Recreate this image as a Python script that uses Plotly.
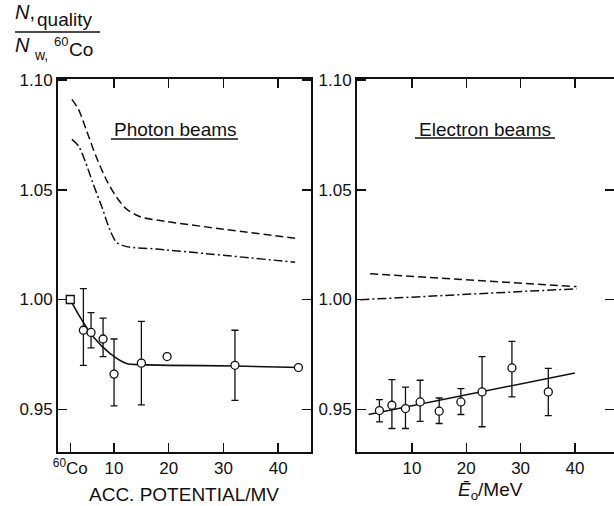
import plotly.graph_objects as go

# ---------------- data ----------------
# Photon beams (left panel)
co_x = [2.0]
co_y = [1.000]
photon_x = [4.4, 5.8, 8.0, 10.0, 15.0, 19.7, 32.1, 43.7]
photon_y = [0.986, 0.985, 0.982, 0.966, 0.971, 0.974, 0.970, 0.969]
photon_hi = [1.005, 0.994, 0.9915, 0.982, 0.990, 0.974, 0.986, 0.969]
photon_lo = [0.970, 0.978, 0.974, 0.9515, 0.952, 0.974, 0.954, 0.969]
photon_fit_x = [2.0, 3.8, 6.2, 9.3, 12.3, 15.0, 20.0, 32.0, 44.0]
photon_fit_y = [1.000, 0.992, 0.983, 0.9753, 0.9708, 0.9703, 0.9700, 0.9697, 0.9690]
photon_dash_x = [2.3, 3.5, 5.0, 6.8, 8.7, 10.5, 12.3, 14.8, 17.8, 43.1]
photon_dash_y = [1.0912, 1.0867, 1.0768, 1.0647, 1.0541, 1.0465, 1.0412, 1.0377, 1.0362, 1.0279]
photon_dd_x = [2.3, 3.5, 4.7, 6.2, 7.8, 9.3, 10.5, 12.3, 17.8, 43.1]
photon_dd_y = [1.0730, 1.0700, 1.0632, 1.0526, 1.0420, 1.0314, 1.0260, 1.0241, 1.0230, 1.0170]

# Electron beams (right panel)
elec_x = [4.0, 6.3, 8.8, 11.5, 15.0, 19.0, 22.9, 28.4, 35.1]
elec_y = [0.9494, 0.9518, 0.9503, 0.9533, 0.9491, 0.9533, 0.9579, 0.9688, 0.9579]
elec_hi = [0.9544, 0.9635, 0.9601, 0.9632, 0.9551, 0.9594, 0.9740, 0.9809, 0.9686]
elec_lo = [0.9442, 0.9412, 0.9412, 0.9445, 0.9435, 0.9476, 0.9420, 0.9556, 0.9471]
elec_fit_x = [2.0, 40.0]
elec_fit_y = [0.9476, 0.9665]
elec_dash_x = [2.3, 40.3]
elec_dash_y = [1.0117, 1.0059]
elec_dd_x = [0.5, 40.3]
elec_dd_y = [0.9999, 1.0049]

y_ticks = [0.95, 1.00, 1.05, 1.10]
y_ticktext = ["0.95", "1.00", "1.05", "1.10"]
left_xticks = [2, 10, 20, 30, 40]
left_xticktext = ["<sup>60</sup>Co", "10", "20", "30", "40"]
right_xticks = [10, 20, 30, 40]
right_xticktext = ["10", "20", "30", "40"]

# ---------------- layout geometry ----------------
W, H = 614, 506
ML, MR, MT, MB = 58, 0, 79, 54
PW = W - ML - MR
PH = H - MT - MB
FONT = "Liberation Sans"
BLACK = "#111111"


def px(x):
    return (x - ML) / PW


def py(y):
    return (H - MB - y) / PH


fig = go.Figure()

# curves (left)
fig.add_trace(go.Scatter(x=photon_dash_x, y=photon_dash_y, mode="lines",
                         line=dict(color=BLACK, width=1.5, dash="8px,4px", shape="spline", smoothing=0.8),
                         xaxis="x", yaxis="y", showlegend=False))
fig.add_trace(go.Scatter(x=photon_dd_x, y=photon_dd_y, mode="lines",
                         line=dict(color=BLACK, width=1.5, dash="9px,3px,2px,3px", shape="spline", smoothing=0.8),
                         xaxis="x", yaxis="y", showlegend=False))
fig.add_trace(go.Scatter(x=photon_fit_x, y=photon_fit_y, mode="lines",
                         line=dict(color=BLACK, width=1.6, shape="spline", smoothing=0.8),
                         xaxis="x", yaxis="y", showlegend=False))
fig.add_trace(go.Scatter(
    x=photon_x, y=photon_y, mode="markers",
    marker=dict(symbol="circle", size=8, color="white", line=dict(color=BLACK, width=1.3)),
    error_y=dict(type="data", symmetric=False,
                 array=[h - v for h, v in zip(photon_hi, photon_y)],
                 arrayminus=[v - l for l, v in zip(photon_lo, photon_y)],
                 color=BLACK, thickness=1.3, width=3.5),
    xaxis="x", yaxis="y", showlegend=False))
fig.add_trace(go.Scatter(x=co_x, y=co_y, mode="markers",
                         marker=dict(symbol="square", size=8, color="white", line=dict(color=BLACK, width=1.3)),
                         xaxis="x", yaxis="y", showlegend=False))

# curves (right)
fig.add_trace(go.Scatter(x=elec_dash_x, y=elec_dash_y, mode="lines",
                         line=dict(color=BLACK, width=1.5, dash="8px,4px"),
                         xaxis="x2", yaxis="y2", showlegend=False))
fig.add_trace(go.Scatter(x=elec_dd_x, y=elec_dd_y, mode="lines",
                         line=dict(color=BLACK, width=1.5, dash="9px,3px,2px,3px"),
                         xaxis="x2", yaxis="y2", showlegend=False))
fig.add_trace(go.Scatter(x=elec_fit_x, y=elec_fit_y, mode="lines",
                         line=dict(color=BLACK, width=1.6),
                         xaxis="x2", yaxis="y2", showlegend=False))
fig.add_trace(go.Scatter(
    x=elec_x, y=elec_y, mode="markers",
    marker=dict(symbol="circle", size=8, color="white", line=dict(color=BLACK, width=1.3)),
    error_y=dict(type="data", symmetric=False,
                 array=[h - v for h, v in zip(elec_hi, elec_y)],
                 arrayminus=[v - l for l, v in zip(elec_lo, elec_y)],
                 color=BLACK, thickness=1.3, width=3.5),
    xaxis="x2", yaxis="y2", showlegend=False))

# dummy traces for overlay axes
fig.add_trace(go.Scatter(x=[], y=[], xaxis="x3", yaxis="y", showlegend=False, hoverinfo="skip"))
fig.add_trace(go.Scatter(x=[], y=[], xaxis="x2", yaxis="y3", showlegend=False, hoverinfo="skip"))

LEFT_XR = [-0.24, 46.0]
RIGHT_XR = [-0.13, 47.2]
YR = [0.9305, 1.1005]
tickfont = dict(family=FONT, size=17, color=BLACK)
common = dict(showgrid=False, zeroline=False, linecolor=BLACK, linewidth=2,
              ticks="inside", ticklen=9, tickwidth=1.4, tickcolor=BLACK, tickfont=tickfont)

fig.update_layout(
    width=W, height=H,
    margin=dict(l=ML, r=MR, t=MT, b=MB),
    paper_bgcolor="white", plot_bgcolor="white",
    font=dict(family=FONT, color=BLACK),
    hovermode=False,
    xaxis=dict(domain=[0, 253 / PW], range=LEFT_XR, anchor="y",
               tickmode="array", tickvals=left_xticks, ticktext=left_xticktext,
               showline=True, mirror=False, **common),
    xaxis3=dict(range=LEFT_XR, overlaying="x", side="top", anchor="y",
                tickmode="array", tickvals=right_xticks, showticklabels=False,
                showline=True, **common),
    yaxis=dict(domain=[0, 1], range=YR, anchor="x",
               tickmode="array", tickvals=y_ticks, ticktext=y_ticktext,
               showline=True, mirror="ticks", **common),
    xaxis2=dict(domain=[299 / PW, 1], range=RIGHT_XR, anchor="y2",
                tickmode="array", tickvals=right_xticks, ticktext=right_xticktext,
                showline=True, mirror="ticks", **common),
    yaxis2=dict(domain=[0, 1], range=YR, anchor="x2",
                tickmode="array", tickvals=y_ticks, ticktext=y_ticktext,
                showline=True, mirror=False, **common),
    yaxis3=dict(range=YR, overlaying="y2", side="right", anchor="x2",
                tickmode="array", tickvals=[0.95, 1.00, 1.05], showticklabels=False,
                showline=False, **common),
)

ann = []


def add_text(text, x, y, size, xanchor="center", yanchor="middle"):
    ann.append(dict(text=text, x=px(x), y=py(y), xref="paper", yref="paper",
                    xanchor=xanchor, yanchor=yanchor, showarrow=False,
                    font=dict(family=FONT, size=size, color=BLACK)))


add_text("Photon beams", 175, 129, 19)
add_text("Electron beams", 485, 129, 19)
add_text("ACC. POTENTIAL/MV", 184, 494, 19)
add_text("<i>Ē</i><sub>o</sub>/MeV", 490, 491, 19)

# y-axis quantity label (fraction)
add_text("<i>N</i>,", 13, 12, 20, xanchor="left")
add_text("quality", 35, 20, 19, xanchor="left")
add_text("<i>N</i>", 13, 45, 20, xanchor="left")
add_text("w,", 32, 55, 14, xanchor="left")
add_text("60", 52, 42, 13, xanchor="left")
add_text("Co", 67, 50, 19, xanchor="left")

fig.update_layout(annotations=ann)

shapes = [
    dict(type="line", xref="paper", yref="paper", x0=px(15), x1=px(100), y0=py(32), y1=py(32),
         line=dict(color=BLACK, width=1.5)),
    dict(type="line", xref="paper", yref="paper", x0=px(111), x1=px(238), y0=py(139), y1=py(139),
         line=dict(color=BLACK, width=1.5)),
    dict(type="line", xref="paper", yref="paper", x0=px(415), x1=px(555), y0=py(138), y1=py(138),
         line=dict(color=BLACK, width=1.5)),
]
fig.update_layout(shapes=shapes)

fig.write_html("out.html", config={"displayModeBar": False, "staticPlot": True},
               post_script="document.body.style.margin='0';document.body.style.overflow='hidden';")
